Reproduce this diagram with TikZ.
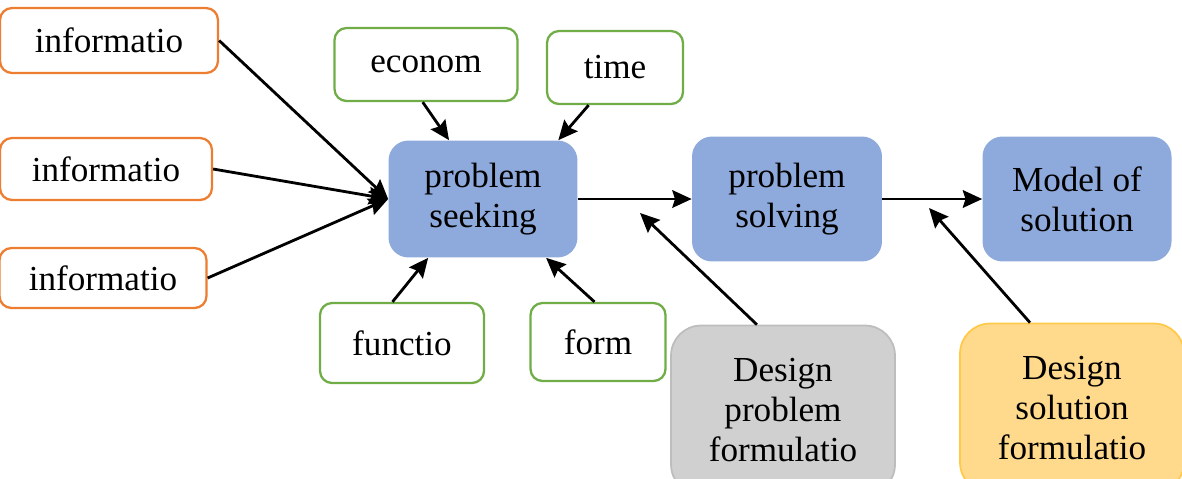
\documentclass[tikz,border=0pt]{standalone}
\usepackage{fontspec}
\setmainfont{Liberation Serif}
\usepackage{xcolor}
\usepackage{tikz}
\usetikzlibrary{positioning,shapes.geometric,arrows.meta,calc}

\definecolor{infoorange}{HTML}{ED7D31}
\definecolor{factgreen}{HTML}{70AD47}
\definecolor{stepblue}{HTML}{8EA9DB}
\definecolor{probgrey}{HTML}{D0D0D0}
\definecolor{probedge}{HTML}{BDBDBD}
\definecolor{solfill}{HTML}{FFD98C}
\definecolor{soledge}{HTML}{FFC94A}

\begin{document}
\begin{tikzpicture}[
    x=0.02cm, y=-0.02cm,
    >=Stealth,
    font=\fontsize{20}{23}\selectfont,
    infobox/.style={
        draw=infoorange,
        line width=1.3pt,
        rounded corners=2.4mm,
        fill=white,
        align=center
    },
    factbox/.style={
        draw=factgreen,
        line width=1.3pt,
        rounded corners=2.4mm,
        fill=white,
        align=center
    },
    stepbox/.style={
        draw=none,
        rounded corners=4mm,
        fill=stepblue,
        minimum width=3.8cm,
        minimum height=2.5cm,
        align=center
    },
    formbox/.style={
        line width=1pt,
        rounded corners=6mm,
        minimum width=4.48cm,
        minimum height=3.38cm,
        align=center
    },
    arr/.style={-{Stealth[length=11pt,width=10pt,inset=1.5pt]}, line width=1.6pt}
]

\useasboundingbox (0,0) rectangle (1182,478);

% information inputs
\node[infobox, minimum width=4.36cm, minimum height=1.3cm] (info1) at (109,40.5) {informatio};
\node[infobox, minimum width=4.24cm, minimum height=1.24cm] (info2) at (106,169) {informatio};
\node[infobox, minimum width=4.14cm, minimum height=1.2cm] (info3) at (103,278) {informatio};

% factors
\node[factbox, minimum width=3.66cm, minimum height=1.46cm] (econom) at (426,64.5) {econom};
\node[factbox, minimum width=2.72cm, minimum height=1.46cm] (time) at (615,67.5) {time};
\node[factbox, minimum width=3.28cm, minimum height=1.6cm] (functio) at (402,343) {functio};
\node[factbox, minimum width=2.7cm, minimum height=1.56cm] (form) at (598,342) {form};

% main steps
\node[stepbox, minimum width=3.78cm, minimum height=2.34cm] (seeking) at (483,199) {problem\\seeking};
\node[stepbox] (solving) at (787,199) {problem\\solving};
\node[stepbox, minimum width=3.78cm] (model) at (1077,199) {Model of\\solution};

% formulation boxes
\node[formbox, draw=probedge, fill=probgrey] (designprob) at (783,410) {Design\\problem\\formulatio};
\node[formbox, draw=soledge, fill=solfill] (designsol) at (1072,408) {Design\\solution\\formulatio};

\coordinate (probjoin) at (640,213);
\coordinate (soljoin) at (929,208);
\coordinate (soltop) at ($(designsol.north)+(-42,0)$);

\draw[arr] (info1.east) -- (seeking.west);
\draw[arr] (info2.east) -- (seeking.west);
\draw[arr] (info3.east) -- (seeking.west);

\draw[arr] (econom.-95) -- (seeking.120);
\draw[arr] (time.-125) -- (seeking.38);
\draw[arr] (functio.103) -- (seeking.-133);
\draw[arr] (form.95) -- (seeking.-43);

\draw[arr] (seeking.east) -- (solving.west);
\draw[arr] (solving.east) -- (model.west);

\draw[arr] (designprob.107) -- (probjoin);
\draw[arr] (soltop) -- (soljoin);

\end{tikzpicture}
\end{document}
